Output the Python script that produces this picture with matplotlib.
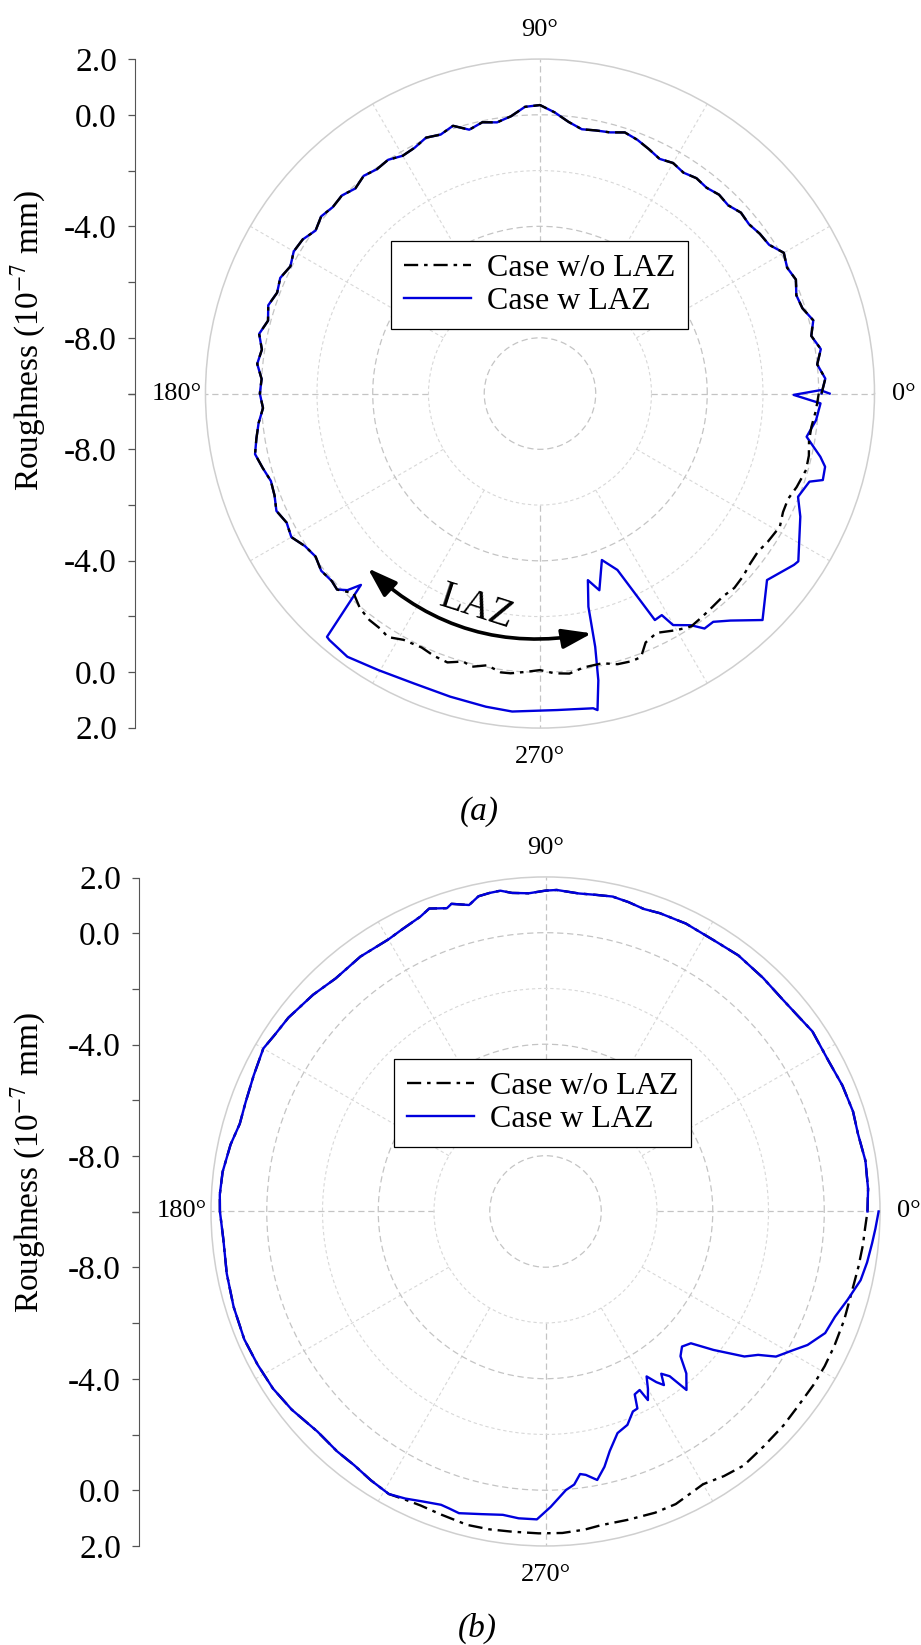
import numpy as np
import matplotlib.pyplot as plt

plt.rcParams['font.family'] = ['Liberation Serif', 'DejaVu Serif']
plt.rcParams['mathtext.fontset'] = 'stix'

# ---- data (angle in degrees, roughness in 1e-7 mm) ----
# panel (a): both cases share the same profile from 0 to ~224 deg
th_a_common = [0, 3, 6, 9, 12, 15, 18, 21, 24, 27, 30, 33, 36, 39, 42, 45, 48, 51, 54, 57,
               60, 63, 66, 69, 72, 75, 78, 81, 84, 87, 90, 93, 96, 99, 102, 105, 108, 111, 114, 117,
               120, 123, 126, 129, 132, 135, 138, 141, 144, 147, 150, 153, 156, 159, 162, 165, 168, 171, 174, 177,
               180, 183, 186, 189, 192, 195, 198, 201, 204, 207, 210, 213, 216, 219, 222]
r_a_common = [0.10, 0.25, 0.00, 0.20, -0.05, 0.15, -0.10, -0.15, 0.05, -0.05, 0.10, -0.20, -0.25, -0.35, -0.30,
              -0.45, -0.40, -0.50, -0.45, -0.55, -0.45, -0.55, -0.40, -0.25, -0.15, -0.30, -0.35, -0.40, -0.20, 0.10,
              0.35, 0.30, 0.00, -0.15, -0.05, -0.20, 0.10, -0.05, 0.05, -0.10, -0.15, 0.00, -0.05, 0.05, -0.10,
              0.05, 0.00, 0.10, -0.05, 0.15, 0.20, 0.05, 0.20, 0.10, 0.25, 0.10, 0.30, 0.10, 0.20, 0.00,
              0.05, -0.05, 0.15, 0.30, 0.45, 0.30, 0.15, 0.20, 0.35, 0.20, 0.30, 0.05, -0.05, 0.10, 0.05]

th_a_wo = [224, 227, 230, 233, 236, 238, 241, 245, 248, 251, 254, 256, 259, 262, 264, 267, 270, 273, 276, 279,
           283, 286, 289, 291, 293, 296, 300, 303, 306, 309, 312, 315, 318, 321, 324, 327, 331, 334, 337, 340,
           344, 347, 350, 353, 356, 358, 360]
r_a_wo = [0.12, -0.20, 0.05, 0.17, 0.20, 0.30, 0.10, 0.05, 0.15, 0.20, 0.00, 0.10, -0.07, 0.10, 0.09, 0.00,
          -0.08, 0.05, 0.10, -0.05, -0.07, 0.10, 0.15, 0.12, -0.30, -0.45, -0.20, -0.04, -0.10, -0.16, -0.20,
          -0.14, -0.20, -0.30, -0.34, -0.25, -0.16, -0.30, -0.33, -0.20, -0.07, -0.10, -0.20, -0.19, -0.10,
          -0.05, 0.00]

th_a_w = [224, 225.6, 226.9, 228.8, 229.5, 233.8, 239.7, 246.5, 253.5, 260.2, 265.0, 273.1, 279.6, 280.3,
          281.5, 282.3, 282.8, 284.4, 286.8, 290.4, 293.7, 296.9, 298.8, 299.9, 303.1, 305.0, 307.2, 310.0,
          314.5, 320.6, 326.0, 327.0, 334.7, 338.2, 341.9, 343.0, 345.6, 347.3, 350.8, 354.5, 358.0, 359.7,
          360.7, 360.0]
r_a_w = [0.12, -0.13, -0.60, 1.60, 1.63, 1.70, 1.49, 1.34, 1.34, 1.40, 1.45, 1.37, 1.45, 1.54,
         0.50, -0.70, -2.16, -3.09, -2.63, -3.63, -3.09, -0.89, -0.93, -0.42, -0.08, 0.29, 0.28, 0.63,
         1.39, 0.54, 0.99, 1.05, 0.33, -0.03, 0.17, 0.61, 0.56, 0.31, -0.31, -0.05, 0.07, -0.90,
         0.06, 0.39]

# panel (b): shared profile from 0 to ~241 deg
th_b_common = [0, 4, 9, 14, 18, 23, 28, 34, 38, 42, 47, 53, 58, 64, 69, 72, 75, 78, 81, 84,
               88, 90, 93, 96, 98, 100, 102, 104, 107, 108, 111, 113, 117, 120, 126, 132, 137, 143, 147, 150,
               155, 160, 164, 168, 173, 177, 180, 185, 191, 197, 203, 208, 213, 218, 224, 229, 233, 237, 241]
r_b_common = [1.55, 1.60, 1.62, 1.55, 1.60, 1.57, 1.50, 1.55, 1.45, 1.41, 1.45, 1.50, 1.45, 1.49, 1.46,
              1.41, 1.49, 1.55, 1.50, 1.47, 1.54, 1.51, 1.43, 1.49, 1.62, 1.60, 1.56, 1.33, 1.54, 1.44,
              1.64, 1.49, 1.35, 1.27, 1.30, 1.25, 1.40, 1.55, 1.60, 1.69, 1.55, 1.45, 1.41, 1.55, 1.67,
              1.70, 1.68, 1.60, 1.65, 1.70, 1.74, 1.70, 1.66, 1.55, 1.37, 1.40, 1.40, 1.50, 1.59]

th_b_wo = [241, 244, 247, 251, 256, 260, 264, 268.8, 273, 277, 280, 285, 290, 294, 298, 300, 304, 308,
           313, 318, 322, 327, 331, 335, 340, 345, 350, 354, 357, 360]
r_b_wo = [1.59, 1.50, 1.46, 1.50, 1.59, 1.58, 1.55, 1.55, 1.55, 1.50, 1.43, 1.45, 1.50, 1.49, 1.35, 1.30,
          1.45, 1.56, 1.50, 1.48, 1.44, 1.45, 1.45, 1.43, 1.40, 1.36, 1.40, 1.45, 1.48, 1.55]

th_b_w = [241, 244, 247, 250.4, 252, 254, 258, 262, 265, 268.4, 271, 274.2, 276, 277.5, 278.7, 280.9,
          283, 285, 288, 291, 293.6, 295, 296, 297.8, 298.5, 300, 301.5, 303, 304.3, 305.5, 307, 308.3,
          311, 313, 315.3, 317.8, 320.5, 323.9, 326, 327.8, 330.8, 333, 336.5, 340, 343.7, 347.7, 351,
          354.4, 357, 360]
r_b_w = [1.59, 1.46, 1.30, 1.17, 1.20, 1.26, 1.10, 0.99, 1.05, 1.05, 0.60, 0.02, -0.15, -0.50, -0.44,
         -0.19, -0.60, -1.10, -1.64, -1.80, -2.17, -2.20, -2.70, -2.76, -2.30, -2.65, -3.06, -2.70, -2.46,
         -2.85, -2.60, -1.84, -2.30, -2.90, -3.11, -2.96, -2.19, -1.17, -0.80, -0.23, 0.19, 0.55, 0.94,
         1.05, 1.29, 1.57, 1.68, 1.77, 1.85, 1.95]

# axis settings
r_min, r_max = -10, 2
angle_labels = ['0°', '90°', '180°', '270°']
axis_tick_values = [2.0, 0.0, -4.0, -8.0]
axis_minor_values = [-2.0, -6.0, -10.0]
legend_labels = ['Case w/o LAZ', 'Case w LAZ']

grid_major = '#c4c4c4'
grid_minor = '#d8d8d8'
blue = '#0000dd'
dashdot = (0, (6, 2.5, 1.5, 2.5))


def make_panel(fig, polar_rect, axis_rect, label_y, legend_xy, tag_xy, tag, series, blue_on_top):
    ax = fig.add_axes(polar_rect, projection='polar')
    th_wo, r_wo, th_w, r_w = series
    z_wo, z_w = (2, 3) if blue_on_top else (3, 2)
    l1, = ax.plot(np.deg2rad(th_wo), r_wo, color='black', lw=1.7, ls=dashdot, zorder=z_wo)
    l2, = ax.plot(np.deg2rad(th_w), r_w, color=blue, lw=1.7, zorder=z_w)

    # grid: circles every 2 units, spokes every 30 deg starting at r=-6
    ax.set_yticks([-8, -4, 0])
    ax.set_yticks([-6, -2], minor=True)
    ax.set_yticklabels([])
    ax.set_thetagrids([0, 90, 180, 270], angle_labels, fontsize=19)
    ax.xaxis.grid(False)
    ax.yaxis.grid(True, which='major', color=grid_major, ls=(0, (5, 3)), lw=0.9)
    ax.yaxis.grid(True, which='minor', color=grid_minor, ls=(0, (3, 2.5)), lw=0.8)
    ax.vlines(np.deg2rad([0, 90, 180, 270]), -6, r_max, colors=grid_major,
              linestyles=(0, (5, 3)), lw=0.9, zorder=1)
    ax.vlines(np.deg2rad([30, 60, 120, 150, 210, 240, 300, 330]), -6, r_max, colors=grid_minor,
              linestyles=(0, (3, 2.5)), lw=0.8, zorder=1)
    ax.set_ylim(r_min, r_max)
    ax.spines['polar'].set_color('#cfcfcf')
    ax.spines['polar'].set_linewidth(1.1)
    ax.tick_params(axis='x', pad=14, length=0)
    ax.tick_params(axis='y', which='both', length=0)

    leg = ax.legend([l1, l2], legend_labels, loc='upper left', bbox_to_anchor=legend_xy,
                    bbox_transform=fig.transFigure, borderaxespad=0, fontsize=23,
                    fancybox=False, framealpha=1, edgecolor='black', handlelength=2.1,
                    handletextpad=0.5, borderpad=0.4, labelspacing=0.12)
    leg.get_frame().set_linewidth(0.9)

    # separate straight roughness axis on the left
    sax = fig.add_axes(axis_rect)
    sax.set_ylim(-(r_max - r_min), r_max - r_min)
    pos = [v - r_min for v in axis_tick_values] + [-(v - r_min) for v in axis_tick_values]
    labs = ['%.1f' % v for v in axis_tick_values] * 2
    mpos = [v - r_min for v in axis_minor_values] + [-(v - r_min) for v in axis_minor_values]
    sax.set_yticks(pos)
    sax.set_yticklabels(labs)
    sax.set_yticks(mpos, minor=True)
    sax.set_xticks([])
    for s in ['top', 'right', 'bottom']:
        sax.spines[s].set_visible(False)
    sax.spines['left'].set_color('#555555')
    sax.patch.set_visible(False)
    sax.tick_params(axis='y', which='both', direction='out', length=5, width=0.9,
                    color='#555555', labelsize=24, pad=8)
    sax.set_ylabel('Roughness (10$^{-7}$ mm)', fontsize=24)
    sax.yaxis.set_label_coords(0.052, label_y, transform=fig.transFigure)

    fig.text(tag_xy[0], tag_xy[1], tag, style='italic', fontsize=24, ha='center', va='center')
    return ax


fig = plt.figure(figsize=(9.21, 16.45), dpi=100)

series_a = (th_a_common + th_a_wo, r_a_common + r_a_wo, th_a_common + th_a_w, r_a_common + r_a_w)
series_b = (th_b_common[:-1] + th_b_wo, r_b_common[:-1] + r_b_wo,
            th_b_common[:-1] + th_b_w, r_b_common[:-1] + r_b_w)

ax_a = make_panel(fig, [0.2231, 0.5574, 0.7264, 0.4067], [0.1466, 0.5576, 0.001, 0.4063],
                  0.7930, (0.4245, 0.8535), (0.520, 0.5064), '(a)', series_a, False)
ax_b = make_panel(fig, [0.2291, 0.0602, 0.7264, 0.4067], [0.1509, 0.0602, 0.001, 0.4063],
                  0.2930, (0.4278, 0.3562), (0.518, 0.0103), '(b)', series_b, True)

# LAZ arc arrow in panel (a)
ax_a.annotate('', xy=(np.deg2rad(282.2), -1.2), xytext=(np.deg2rad(225.4), -1.2),
              arrowprops=dict(arrowstyle='<|-|>,head_length=0.9,head_width=0.3', color='black',
                              lw=2.6, shrinkA=0, shrinkB=0, mutation_scale=20,
                              connectionstyle='arc3,rad=0.25'))
ax_a.text(np.deg2rad(253.5), -2.0, 'LAZ', fontsize=28, rotation=-18, ha='center', va='center')

fig.savefig('out.png', dpi=100)
